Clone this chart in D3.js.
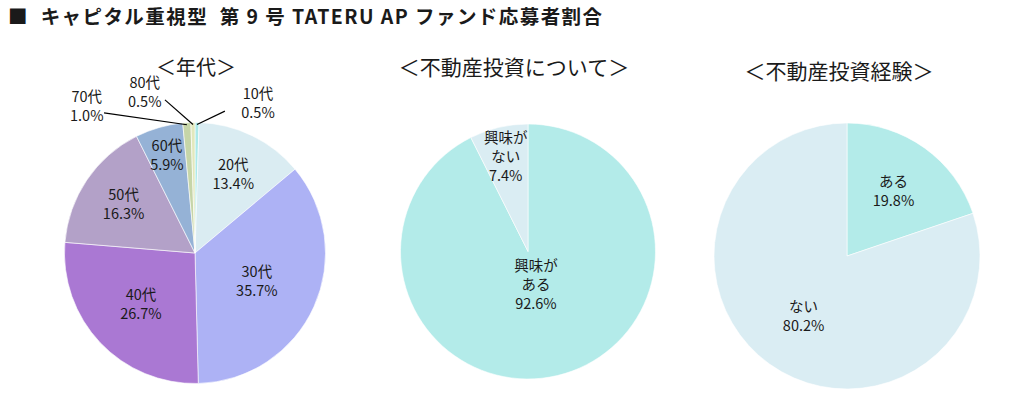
<!DOCTYPE html>
<html><head><meta charset="utf-8">
<script src="https://cdn.jsdelivr.net/npm/d3@7"></script>
<style>
html,body{margin:0;padding:0;background:#fff;}
svg{display:block;}
text{font-family:"Noto Sans CJK JP","Noto Sans",sans-serif;fill:#1a1a1a;}
</style></head>
<body>
<svg id="chart" width="1009" height="398"></svg>
<script>
// ---- data ----
const ageCategories = ["10代","20代","30代","40代","50代","60代","70代","80代"];
const ageValues = [0.5, 13.4, 35.7, 26.7, 16.3, 5.9, 1.0, 0.5];
const interestCategories = ["興味が\nある","興味が\nない"];
const interestValues = [92.6, 7.4];
const experienceCategories = ["ある","ない"];
const experienceValues = [19.8, 80.2];
const chartTitle = "■  キャピタル重視型  第 9 号 TATERU AP ファンド応募者割合";
const subTitles = ["＜年代＞","＜不動産投資について＞","＜不動産投資経験＞"];

// ---- styles / layout ----
const ageColors = ["#ace9e8","#daecf2","#adb2f5","#aa78d3","#b3a1c8","#95b2d6","#c6d5a8","#e2e8bd"];
const interestColors = ["#b3ebe9","#daedf3"];
const experienceColors = ["#b3ebe9","#daedf3"];
// label radius as fraction of pie radius (inside labels)
const ageLabelR = [null, 0.67, 0.52, 0.57, 0.66, 0.78, null, null];
// outside labels: text polar (deg, px) and leader end polar (deg, px)
const ageOutside = {
  "10代": {ta: 22.9, tr: 162, la: 11.9, lr: 145},
  "80代": {ta: -17.4, tr: 168, la: -11.1, lr: 156},
  "70代": {ta: -36.5, tr: 182, la: -33.0, lr: 167}
};
const svg = d3.select("#chart");

svg.append("text").attr("x", 8).attr("y", 23.5)
  .attr("font-size", 19.5).attr("font-weight", "bold")
  .attr("textLength", 594).attr("lengthAdjust", "spacing")
  .attr("xml:space","preserve").style("white-space","pre")
  .text(chartTitle);

const pies = [
  {cats: ageCategories, vals: ageValues, colors: ageColors, cx: 195, cy: 253, r: 130.5, title: subTitles[0], tx: 196, ty: 75, tfs: 20, labelR: ageLabelR, fs: 14.5},
  {cats: interestCategories, vals: interestValues, colors: interestColors, cx: 528, cy: 251.5, r: 127.5, title: subTitles[1], tx: 514, ty: 75, tfs: 21, labelR: [0.27, 0.76], fs: 14.5},
  {cats: experienceCategories, vals: experienceValues, colors: experienceColors, cx: 847, cy: 256, r: 133, title: subTitles[2], tx: 839, ty: 79, tfs: 21, labelR: [0.60, 0.56], fs: 14.5}
];

function polar(cx, cy, deg, r) {
  const a = deg * Math.PI / 180;
  return [cx + r * Math.sin(a), cy - r * Math.cos(a)];
}

pies.forEach(p => {
  const data = p.cats.map((c, i) => ({cat: c, val: p.vals[i], i}));
  const arcs = d3.pie().sort(null).value(d => d.val)(data);
  const arc = d3.arc().innerRadius(0).outerRadius(p.r);
  const g = svg.append("g").attr("transform", `translate(${p.cx},${p.cy})`);

  svg.append("text").attr("x", p.tx).attr("y", p.ty).attr("text-anchor","middle")
    .attr("font-size", p.tfs).text(p.title);

  g.selectAll("path").data(arcs).join("path")
    .attr("d", arc).attr("fill", d => p.colors[d.data.i])
    .attr("stroke", "#ffffff").attr("stroke-width", 0.6);

  arcs.forEach(a => {
    const lines = a.data.cat.split("\n").concat([a.data.val.toFixed(1) + "%"]);
    const out = ageOutside[a.data.cat];
    let x, y;
    if (out && p.cats === ageCategories) {
      const mid = (a.startAngle + a.endAngle) / 2 * 180 / Math.PI;
      const s = polar(p.cx, p.cy, mid, p.r - 2);
      const e = polar(p.cx, p.cy, out.la, out.lr);
      svg.append("line").attr("x1", s[0]).attr("y1", s[1]).attr("x2", e[0]).attr("y2", e[1])
        .attr("stroke", "#000").attr("stroke-width", 1.2);
      [x, y] = polar(p.cx, p.cy, out.ta, out.tr);
    } else {
      const lr = p.labelR[a.data.i] * p.r;
      const c = d3.arc().innerRadius(lr).outerRadius(lr).centroid(a);
      x = p.cx + c[0]; y = p.cy + c[1];
    }
    const lh = 19;
    const y0 = y - (lines.length - 1) * lh / 2;
    const t = svg.append("text").attr("text-anchor","middle").attr("font-size", p.fs);
    lines.forEach((ln, k) => {
      t.append("tspan").attr("x", x).attr("y", y0 + k * lh).attr("dy", "0.35em").text(ln);
    });
  });
});
</script>
</body></html>
